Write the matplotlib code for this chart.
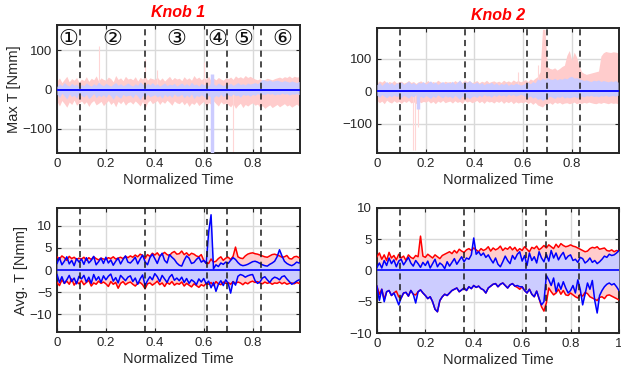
import numpy as np
import matplotlib
matplotlib.use('Agg')
import matplotlib.pyplot as plt

plt.rcParams['font.family'] = ['Liberation Sans', 'DejaVu Sans']

# phase boundaries and circled phase labels
phase_bounds = [0.095, 0.36, 0.615, 0.697, 0.835]
phase_names = ['①', '②', '③', '④', '⑤', '⑥']
phase_centers = [0.045, 0.225, 0.49, 0.655, 0.763, 0.92]

# ---- Knob 1, max torque envelopes (x = 0 .. 0.99 step 0.01)
k1_max_red_hi = [22,30,18,26,34,20,28,24,31,19, 27,23,33,21,29,25,35,22,30,26,
	24,32,28,20,36,26,30,23,34,27, 29,25,33,22,31,27,35,24,30,28,
	26,32,24,30,22,28,34,25,31,27, 29,23,33,26,30,24,36,28,32,25,
	30,27,34,22,29,25,31,27,24,30, 28,32,26,35,30,33,29,36,31,34,
	30,27,25,28,24,26,29,27,25,28, 30,32,29,33,31,35,30,34,32,33]
k1_max_red_lo = [-30,-42,-28,-36,-45,-32,-38,-27,-40,-34, -29,-37,-31,-43,-33,-28,-39,-35,-30,-41,
	-34,-28,-38,-32,-44,-30,-36,-29,-40,-33, -31,-37,-29,-35,-42,-30,-48,-33,-27,-36,
	-32,-28,-38,-30,-35,-27,-33,-40,-29,-34, -36,-30,-39,-32,-43,-34,-38,-31,-41,-35,
	-30,-45,-33,-38,-29,-36,-42,-31,-37,-34, -39,-44,-36,-48,-40,-35,-46,-38,-42,-37,
	-34,-40,-37,-45,-41,-48,-43,-39,-46,-42, -38,-44,-40,-36,-42,-39,-45,-41,-37,-43]
k1_max_blue_hi = [8,15,10,18,12,9,16,11,14,7, 13,10,17,12,9,15,11,19,13,10,
	16,12,9,14,18,11,15,10,13,17, 12,9,15,11,20,14,10,16,12,18,
	11,15,9,13,17,10,14,12,16,9, 13,17,11,15,10,19,12,14,9,16,
	12,15,10,18,14,11,17,13,10,15, 12,16,11,14,18,13,15,12,17,14,
	16,18,15,20,26,24,22,25,21,23, 24,22,20,23,21,19,22,20,18,21]
k1_max_blue_lo = [-12,-20,-9,-16,-24,-11,-18,-14,-22,-10, -15,-19,-12,-23,-17,-10,-21,-14,-18,-13,
	-20,-11,-16,-25,-13,-18,-22,-12,-17,-15, -14,-21,-11,-17,-26,-15,-20,-12,-18,-16,
	-13,-19,-15,-22,-12,-18,-14,-20,-11,-17, -16,-12,-21,-14,-19,-11,-23,-15,-18,-13,
	-17,-22,-14,-20,-20,-15,-19,-12,-18,-14, -13,-17,-11,-16,-14,-19,-12,-15,-13,-17,
	-12,-15,-10,-14,-11,-13,-9,-12,-10,-14, -11,-13,-9,-12,-10,-14,-11,-12,-10,-13]
# narrow spikes (x, low, high)
k1_red_spike_x = [0.17, 0.36, 0.41, 0.60, 0.72]
k1_red_spike_lo = [0, 0, 0, 0, -160]
k1_red_spike_hi = [112, 78, 50, 70, 0]
k1_blue_spike_x = [0.632]
k1_blue_spike_lo = [-165]
k1_blue_spike_hi = [40]

# ---- Knob 2, max torque envelopes
k2_max_red_hi = [25,32,28,34,24,30,27,33,26,29, 31,25,28,33,27,30,24,29,32,26,
	28,33,25,30,27,34,29,26,31,28, 30,26,33,28,31,27,35,29,32,27,
	29,33,26,31,28,34,27,30,32,28, 31,27,34,29,32,28,35,30,33,29,
	32,36,30,38,34,40,45,60,190,190, 75,70,68,72,65,70,76,80,110,125,
	95,120,105,80,60,55,52,54,56,58, 60,62,108,118,122,120,119,121,120,118]
k2_max_red_lo = [-28,-35,-30,-38,-27,-33,-36,-29,-34,-31, -37,-30,-34,-28,-36,-32,-38,-29,-35,-31,
	-33,-29,-36,-31,-38,-30,-34,-28,-35,-32, -30,-36,-29,-34,-31,-37,-28,-33,-30,-35,
	-32,-28,-35,-30,-37,-29,-33,-31,-36,-30, -34,-29,-37,-31,-35,-30,-38,-32,-36,-33,
	-35,-31,-38,-33,-40,-34,-42,-45,-48,-40, -38,-35,-40,-33,-37,-34,-39,-36,-35,-38,
	-36,-33,-38,-35,-37,-34,-36,-33,-35,-37, -38,-35,-37,-34,-36,-38,-35,-37,-36,-38]
k2_max_blue_hi = [20,28,18,25,30,22,27,19,26,24, 29,21,26,31,23,27,20,28,25,30,
	22,27,32,24,29,21,26,30,23,28, 25,31,22,28,35,24,30,27,33,26,
	24,29,22,27,20,25,23,28,21,26, 19,24,21,26,18,23,20,25,22,19,
	21,25,28,23,30,26,38,34,40,36, 42,38,36,40,35,39,37,41,38,44,
	46,40,42,38,36,33,35,32,30,34, 32,35,30,33,31,29,32,30,33,28]
k2_max_blue_lo = [-12,-18,-10,-15,-20,-13,-17,-11,-16,-14, -19,-12,-16,-21,-13,-17,-10,-18,-15,-20,
	-13,-17,-22,-14,-19,-11,-16,-20,-13,-18, -15,-21,-12,-18,-25,-14,-20,-17,-23,-16,
	-14,-19,-12,-17,-10,-15,-13,-18,-11,-16, -10,-14,-11,-16,-9,-13,-10,-15,-12,-9,
	-12,-16,-19,-14,-21,-17,-25,-22,-28,-24, -20,-15,-18,-22,-16,-19,-14,-21,-17,-20,
	-18,-15,-20,-16,-14,-17,-13,-15,-12,-16, -14,-17,-13,-15,-12,-16,-14,-13,-15,-12]
k2_red_spike_x = [0.150, 0.158, 0.17, 0.58, 0.66]
k2_red_spike_lo = [-180, -180, -110, 0, 0]
k2_red_spike_hi = [0, 0, 0, 60, 80]
k2_blue_spike_x = [0.17]
k2_blue_spike_lo = [-55]
k2_blue_spike_hi = [0]

# ---- Knob 1, average torque (x = 0 .. 0.99 step 0.01)
k1_avg_red_hi = [3.0,2.5,3.2,2.8,2.2,3.1,2.6,2.9,2.4,2.7, 2.5,2.9,2.2,2.8,2.4,3.0,2.6,2.3,2.7,2.5,
	2.4,2.8,2.6,3.0,2.5,2.7,2.9,2.6,3.1,2.8, 3.2,2.9,3.4,3.0,3.6,3.3,2.6,3.5,3.1,3.8,
	3.4,3.9,3.2,3.6,4.0,3.5,3.3,3.9,4.2,3.6, 3.7,4.3,3.5,3.9,3.3,3.8,3.6,3.2,3.0,3.5,
	2.2,1.6,1.5,2.5,1.8,2.0,2.6,3.0,2.2,2.7, 2.9,2.4,3.1,5.2,3.0,2.7,2.6,3.2,3.6,3.8,
	3.9,3.7,3.6,3.4,3.2,3.0,2.9,3.2,3.5,3.6, 3.4,3.2,2.9,3.0,3.3,2.6,2.5,3.0,3.1,2.8]
k1_avg_blue_hi = [1.5,2.8,1.2,2.0,3.0,1.4,2.2,1.0,2.6,1.8, 2.5,1.3,2.8,1.6,2.2,3.1,1.2,1.9,2.7,1.5,
	2.9,1.6,2.3,1.1,2.0,2.7,1.4,2.4,3.2,1.8, 1.6,2.2,2.9,1.4,2.5,3.4,1.9,1.2,2.8,3.6,
	2.6,1.5,3.0,3.8,2.2,1.6,3.5,2.9,2.4,1.6, 1.1,0.9,2.2,3.2,2.7,1.5,1.7,2.4,2.9,1.8,
	2.2,1.5,8.5,12.5,0.3,1.2,0.8,1.6,1.3,1.8, 1.5,2.2,2.8,2.4,1.7,1.2,1.0,1.1,1.3,1.6,
	1.9,2.0,1.8,1.5,1.2,1.0,0.9,1.3,1.6,2.0, 3.0,4.6,3.2,2.0,1.5,1.2,1.0,1.3,1.8,1.6]
k1_avg_red_lo = [-2.8,-3.5,-2.2,-3.0,-2.5,-3.2,-2.0,-3.4,-2.6,-3.1, -2.4,-3.3,-2.8,-2.3,-3.6,-2.9,-3.2,-2.5,-3.0,-2.7,
	-3.1,-3.7,-2.6,-3.2,-2.8,-4.1,-3.0,-2.6,-3.3,-2.9, -2.7,-3.2,-3.6,-3.0,-2.8,-3.3,-4.2,-3.1,-2.9,-3.4,
	-3.0,-2.5,-3.3,-2.9,-3.7,-2.8,-3.2,-2.6,-3.4,-3.0, -3.2,-2.7,-3.6,-3.0,-3.4,-3.8,-3.1,-3.5,-3.9,-3.3,
	-3.6,-3.0,-3.2,-2.8,-3.5,-2.6,-3.1,-3.3,-2.7,-3.0, -2.8,-3.2,-2.6,-3.0,-2.7,-2.9,-3.3,-2.8,-3.1,-2.7,
	-2.5,-2.8,-2.6,-2.9,-3.1,-2.7,-3.0,-2.8,-3.2,-2.9, -3.0,-2.7,-3.1,-2.8,-3.2,-3.0,-2.9,-3.1,-2.8,-3.0]
k1_avg_blue_lo = [-1.0,-2.8,-1.5,-3.0,-2.2,-1.2,-2.6,-1.8,-3.1,-1.4, -2.0,-1.2,-2.7,-1.6,-3.0,-1.0,-2.3,-1.5,-2.8,-1.3,
	-2.2,-1.4,-0.9,-2.5,-1.7,-2.9,-1.2,-1.8,-2.4,-1.6, -1.3,-2.6,-1.8,-3.2,-2.0,-1.1,-3.5,-2.4,-1.5,-2.2,
	-0.8,-1.5,-2.6,-1.2,-2.0,-2.8,-1.6,-1.0,-2.3,-1.8, -2.4,-1.6,-2.8,-1.9,-3.0,-2.2,-2.6,-3.3,-2.0,-2.7,
	-1.9,-3.1,-2.5,-4.0,-2.8,-4.8,-3.2,-2.4,-3.5,-2.2, -3.0,-5.2,-2.6,-3.4,-1.4,-1.0,-1.2,-1.6,-1.3,-1.1,
	-1.0,-2.4,-3.0,-2.7,-1.8,-1.5,-2.2,-2.8,-2.0,-1.6, -1.8,-2.2,-1.5,-1.3,-2.0,-2.6,-3.2,-2.9,-2.5,-2.2]

# ---- Knob 2, average torque (x = 0 .. 1.00 step 0.01)
k2_avg_red_hi = [2.2,2.8,1.8,2.5,1.6,2.9,2.0,2.4,1.7,2.6, 2.0,2.3,1.6,2.5,2.1,1.9,2.4,2.2,5.5,2.3,
	2.1,2.6,2.3,2.0,2.5,2.2,1.9,2.4,2.6,2.8, 3.0,2.7,3.2,2.8,3.4,3.1,2.9,3.3,3.5,3.2,
	3.6,3.3,3.0,3.5,3.2,3.4,3.8,3.1,3.6,3.3, 3.5,3.9,3.2,3.6,3.4,3.8,3.3,3.7,3.1,3.5,
	3.2,3.8,3.4,3.0,3.7,3.5,3.9,3.3,3.6,4.0, 3.6,4.1,3.8,3.5,4.2,3.7,4.3,4.0,3.8,3.9,
	4.1,3.9,3.8,3.6,3.4,3.2,3.0,3.1,3.5,3.7, 3.6,3.8,3.4,3.5,3.6,3.2,3.1,3.3,3.0,3.2,3.1]
k2_avg_blue_hi = [0.5,1.2,0.4,1.6,0.8,2.0,1.1,1.7,0.6,1.5, 1.8,0.9,1.5,2.1,1.2,0.7,1.6,1.1,0.5,1.3,
	0.8,1.5,0.4,1.1,1.8,0.6,1.2,0.9,0.3,1.4, 0.7,1.3,1.9,1.0,1.6,2.2,1.4,2.0,1.8,2.5,
	5.2,2.6,3.0,2.4,2.8,2.1,2.5,1.8,1.2,2.0, 1.0,0.6,1.4,2.3,1.6,1.1,2.4,1.8,2.6,3.0,
	1.5,2.4,0.8,2.8,1.6,2.2,1.2,3.0,2.0,1.4, 2.6,1.5,3.2,2.0,2.8,1.7,2.4,2.9,1.8,2.3,
	2.5,1.6,1.8,1.3,2.1,1.9,1.2,1.5,2.0,1.3, 1.6,1.1,1.4,1.8,2.3,2.1,2.6,2.4,2.5,2.8,3.2]
k2_avg_red_lo = [-2.5,-3.8,-3.0,-4.6,-3.4,-3.2,-4.0,-3.6,-3.3,-4.2, -4.4,-3.6,-3.5,-4.1,-3.2,-3.8,-3.9,-3.4,-3.1,-3.6,
	-4.0,-4.5,-4.2,-5.0,-6.2,-6.6,-4.8,-4.2,-3.8,-4.0, -3.6,-3.2,-3.0,-2.8,-3.4,-3.1,-2.8,-3.2,-2.6,-2.9,
	-2.4,-2.7,-2.5,-2.9,-3.1,-3.6,-2.8,-2.5,-2.2,-2.1, -2.6,-2.2,-2.0,-2.4,-2.8,-2.3,-2.1,-2.5,-2.7,-3.0,
	-2.6,-3.2,-3.6,-3.0,-3.8,-4.2,-3.3,-4.5,-5.8,-6.5, -5.2,-2.8,-3.4,-3.9,-3.6,-3.0,-3.8,-3.2,-3.9,-4.0,
	-3.6,-3.9,-4.2,-4.4,-3.8,-4.1,-3.5,-3.7,-4.2,-4.4, -4.6,-4.8,-4.3,-4.2,-4.5,-4.0,-3.9,-4.1,-4.3,-4.5,-4.7]
k2_avg_blue_lo = [-2.5,-4.8,-3.0,-5.0,-3.4,-3.2,-4.0,-3.6,-4.5,-5.5, -4.4,-3.6,-3.5,-4.1,-3.2,-3.8,-5.2,-3.4,-3.1,-3.6,
	-4.0,-4.5,-4.2,-5.0,-6.2,-6.6,-4.8,-4.2,-3.8,-4.0, -3.6,-3.2,-3.0,-2.8,-3.4,-3.1,-2.8,-3.2,-2.6,-2.9,
	-2.4,-2.7,-2.5,-2.9,-3.1,-3.6,-2.8,-2.5,-2.2,-2.1, -2.6,-2.2,-2.0,-2.4,-2.8,-2.3,-2.1,-2.5,-2.4,-2.6,
	-2.6,-3.2,-3.6,-3.0,-3.8,-4.2,-3.3,-4.5,-5.5,-5.0, -0.8,-1.5,-2.4,-1.2,-3.4,-2.0,-3.0,-1.8,-2.8,-3.6,
	-3.2,-2.4,-3.6,-1.5,-3.0,-5.5,-3.8,-2.0,-3.0,-1.6, -4.8,-6.8,-4.0,-3.2,-2.6,-2.2,-2.0,-2.3,-2.1,-2.6,-3.2]

PINK = '#ffcccc'
LBLUE = '#ccccff'


def style_axes(ax, xlim, ylim, yticks, xticks):
	ax.set_xlim(xlim)
	ax.set_ylim(ylim)
	ax.set_yticks(yticks)
	ax.set_xticks(xticks)
	ax.set_xticklabels([('%g' % v) for v in xticks])
	ax.grid(True, color='#d9d9d9', linewidth=1.0)
	ax.set_axisbelow(True)
	ax.tick_params(direction='in', top=True, right=True, length=3,
		labelsize=9.5, colors='#262626', width=0.8)
	for s in ax.spines.values():
		s.set_linewidth(1.4)
		s.set_color('#262626')
	ax.set_xlabel('Normalized Time', fontsize=10.5, color='#262626', labelpad=2)
	for b in phase_bounds:
		ax.axvline(b, color='#1a1a1a', linestyle=(0, (4, 3)), linewidth=1.1, zorder=6)


def max_panel(ax, hi_r, lo_r, hi_b, lo_b, sx_r, slo_r, shi_r, sx_b, slo_b, shi_b):
	t = np.arange(len(hi_r)) / 100.0
	ax.fill_between(t, lo_r, hi_r, color=PINK, linewidth=0, zorder=2)
	ax.vlines(sx_r, slo_r, shi_r, color='#ffd6d6', linewidth=0.8, zorder=2)
	ax.fill_between(t, lo_b, hi_b, color=LBLUE, linewidth=0, zorder=3)
	ax.vlines(sx_b, slo_b, shi_b, color=LBLUE, linewidth=2.5, zorder=3)
	ax.axhline(0, color='#0000ff', linewidth=1.3, zorder=5)


def avg_panel(ax, hi_r, lo_r, hi_b, lo_b):
	t = np.arange(len(hi_r)) / 100.0
	ax.fill_between(t, 0, hi_r, color=PINK, linewidth=0, zorder=2)
	ax.fill_between(t, lo_r, 0, color=PINK, linewidth=0, zorder=2)
	ax.fill_between(t, 0, hi_b, color=LBLUE, linewidth=0, zorder=3)
	ax.fill_between(t, lo_b, 0, color=LBLUE, linewidth=0, zorder=3)
	ax.plot(t, hi_r, color='#ff0000', linewidth=1.1, zorder=4)
	ax.plot(t, lo_r, color='#ff0000', linewidth=1.1, zorder=4)
	ax.plot(t, hi_b, color='#0000ff', linewidth=1.1, zorder=5)
	ax.plot(t, lo_b, color='#0000ff', linewidth=1.1, zorder=5)
	ax.axhline(0, color='#0000ff', linewidth=1.2, zorder=5)


fig = plt.figure(figsize=(6.21, 3.71), dpi=100)
ax1 = fig.add_axes([0.0918, 0.5876, 0.391, 0.345])
ax2 = fig.add_axes([0.607, 0.5876, 0.3897, 0.337])
ax3 = fig.add_axes([0.0918, 0.105, 0.391, 0.334])
ax4 = fig.add_axes([0.607, 0.1024, 0.3897, 0.337])

xt = [0, 0.2, 0.4, 0.6, 0.8]
max_panel(ax1, k1_max_red_hi, k1_max_red_lo, k1_max_blue_hi, k1_max_blue_lo,
	k1_red_spike_x, k1_red_spike_lo, k1_red_spike_hi,
	k1_blue_spike_x, k1_blue_spike_lo, k1_blue_spike_hi)
style_axes(ax1, (0, 0.993), (-162, 165), [-100, 0, 100], xt)
ax1.set_ylabel('Max T [Nmm]', fontsize=10.5, color='#262626', labelpad=1)
for name, c in zip(phase_names, phase_centers):
	ax1.text(c, 128, name, fontsize=16, ha='center', va='center',
		family=['DejaVu Serif', 'DejaVu Sans'], color='#111111', zorder=7)
ax1.set_title('Knob 1', color='#ff0000', fontsize=11.5, fontweight='bold',
	fontstyle='italic', pad=6)

max_panel(ax2, k2_max_red_hi, k2_max_red_lo, k2_max_blue_hi, k2_max_blue_lo,
	k2_red_spike_x, k2_red_spike_lo, k2_red_spike_hi,
	k2_blue_spike_x, k2_blue_spike_lo, k2_blue_spike_hi)
style_axes(ax2, (0, 0.994), (-189, 194), [-100, 0, 100], xt)
ax2.set_title('Knob 2', color='#ff0000', fontsize=11.5, fontweight='bold',
	fontstyle='italic', pad=6)

avg_panel(ax3, k1_avg_red_hi, k1_avg_red_lo, k1_avg_blue_hi, k1_avg_blue_lo)
style_axes(ax3, (0, 0.993), (-14, 14), [-10, -5, 0, 5, 10], xt)
ax3.set_ylabel('Avg. T [Nmm]', fontsize=10.5, color='#262626', labelpad=1)

avg_panel(ax4, k2_avg_red_hi, k2_avg_red_lo, k2_avg_blue_hi, k2_avg_blue_lo)
style_axes(ax4, (0, 1), (-10, 10), [-10, -5, 0, 5, 10], [0, 0.2, 0.4, 0.6, 0.8, 1])

fig.savefig('out.png', dpi=100)
